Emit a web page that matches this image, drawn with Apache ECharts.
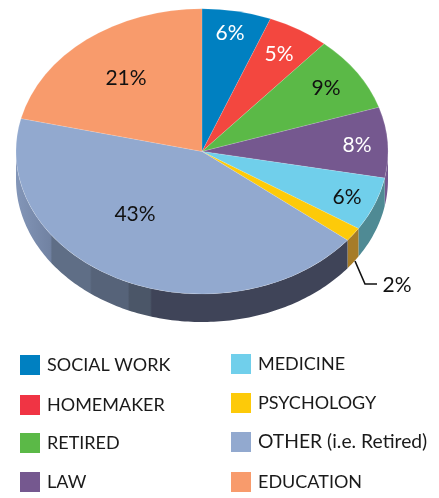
<!DOCTYPE html>
<html><head><meta charset="utf-8">
<style>html,body{margin:0;padding:0;background:#fff}#c{width:439px;height:498px}</style>
<script src="https://cdn.jsdelivr.net/npm/echarts@6/dist/echarts.min.js"></script>
</head><body><div id="c"></div>
<script>
const categories = ['SOCIAL WORK','HOMEMAKER','RETIRED','LAW','MEDICINE','PSYCHOLOGY','OTHER (i.e. Retired)','EDUCATION'];
const values = [6,5.4,8.6,8,6.1,1.6,43,21.3];
const colors = ['#0080c1','#f3473f','#5bb947','#75588f','#70cfeb','#fdca09','#92a9cf','#f89b6c'];
const legendColors = ['#0080c1','#f03444','#5bb947','#75588f','#70cfeb','#fdca09','#92a9cf','#f89b6c'];
const labelColors = ['#fff','#fff','#111','#fff','#111','#111','#111','#111'];

// layout
const CX = 202, CY = 151.4, RX = 186, RY = 142.6, DEPTH = 28, FONT = 'Lato, sans-serif';
const labelPos = [[230,33],[279,54],[326,88],[357,145],[347,197],[397,285],[135,214],[126,78]];
const legendPos = [[20,355],[20,395],[20,433],[20,472],[231,354],[231,393],[231,432],[231,472]];
const legendFontSizes = [18,18,18,18,18,18,19.3,18];
const leaderLine = [[355,261],[365,284],[377,284]];
const wallColors = ['#0a5c8a','#a8322c','#3f8a30','#75588f','#4f8a94','#a67c28',null,'#b06c4a'];
// stepped shading of the long front wall
const otherWall = new echarts.graphic.LinearGradient(16,0,360,0,[
  {offset:0,color:'#8396b8'},{offset:0.1,color:'#7182a2'},{offset:0.105,color:'#5f6e86'},
  {offset:0.215,color:'#5f6e86'},{offset:0.22,color:'#566379'},{offset:0.325,color:'#566379'},
  {offset:0.33,color:'#4b5668'},{offset:0.39,color:'#4b5668'},{offset:0.395,color:'#3f4458'},
  {offset:1,color:'#3f4458'}],true);

const total = values.reduce((a,b)=>a+b,0);
const starts = values.map((v,i)=>values.slice(0,i).reduce((a,b)=>a+b,0)/total);
const ends = values.map((v,i)=>starts[i]+v/total);
function edge(f,dy){const t=2*Math.PI*f;return [CX+RX*Math.sin(t),CY-RY*Math.cos(t)+dy];}

function render(i){
  return function(){
    const children=[];
    const f0=starts[i],f1=ends[i];
    const a=Math.max(f0,.25),b=Math.min(f1,.75);
    if(b>a){
      const up=[],down=[];
      const n=Math.max(2,Math.ceil((b-a)*360));
      for(let k=0;k<=n;k++){const f=a+(b-a)*k/n;up.push(edge(f,0));down.unshift(edge(f,DEPTH));}
      children.push({type:'polygon',z2:1,shape:{points:up.concat(down)},
        style:{fill:i===6?otherWall:wallColors[i]}});
    }
    children.push({type:'sector',x:CX,y:CY,scaleY:RY/RX,z2:10,
      shape:{cx:0,cy:0,r0:0,r:RX,startAngle:-Math.PI/2+2*Math.PI*f0,endAngle:-Math.PI/2+2*Math.PI*f1,clockwise:true},
      style:{fill:colors[i],stroke:'rgba(255,255,255,0.3)',lineWidth:0.5}});
    children.push({type:'text',x:labelPos[i][0],y:labelPos[i][1],z2:20,
      style:{text:Math.round(values[i])+'%',fill:labelColors[i],font:'21px '+FONT,align:'center',verticalAlign:'middle'}});
    if(i===5){
      children.push({type:'polyline',z2:20,shape:{points:leaderLine},style:{fill:null,stroke:'#111',lineWidth:1.6}});
    }
    return {type:'group',children};
  };
}

const chart = echarts.init(document.getElementById('c'),null,{renderer:'canvas'});
chart.setOption({
  animation:false,
  backgroundColor:'#fff',
  legend:categories.map((name,i)=>({
    left:legendPos[i][0],top:legendPos[i][1],padding:0,itemWidth:20,itemHeight:20,
    selectedMode:false,icon:'rect',
    data:[{name,itemStyle:{color:legendColors[i]}}],
    textStyle:{fontFamily:FONT,fontSize:legendFontSizes[i],color:'#1a1a1a',padding:[4,0,0,2]}
  })),
  series:categories.map((name,i)=>({
    type:'custom',name,coordinateSystem:'none',silent:true,
    itemStyle:{color:colors[i]},
    data:[[values[i]]],
    renderItem:render(i)
  }))
});
</script></body></html>
